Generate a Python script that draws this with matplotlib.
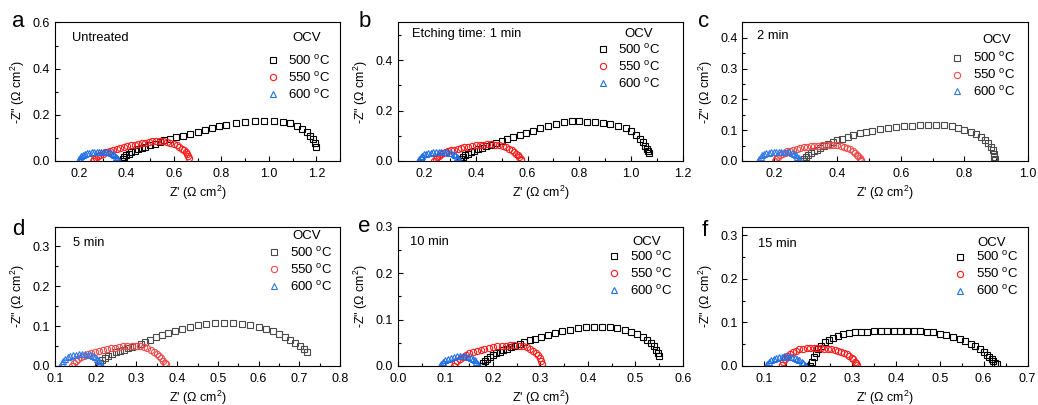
import matplotlib
matplotlib.use('Agg')
import matplotlib.pyplot as plt
from matplotlib.ticker import MultipleLocator, FormatStrFormatter
from matplotlib.lines import Line2D

plt.rcParams['font.family'] = ['Liberation Sans', 'DejaVu Sans']
plt.rcParams['mathtext.fontset'] = 'custom'
plt.rcParams['mathtext.rm'] = 'Liberation Sans'
plt.rcParams['font.size'] = 9

# Nyquist data, Z' and -Z'' in ohm cm2
# (a) untreated
zre_a500 = [0.38, 0.385, 0.39, 0.40, 0.41, 0.42, 0.435, 0.45, 0.465, 0.48, 0.50, 0.52, 0.54, 0.56, 0.585, 0.61,
            0.64, 0.67, 0.70, 0.73, 0.76, 0.79, 0.82, 0.86, 0.90, 0.94, 0.98, 1.02, 1.06, 1.09, 1.12, 1.14,
            1.16, 1.175, 1.185, 1.195, 1.20]
zim_a500 = [0.0, 0.01, 0.018, 0.025, 0.032, 0.038, 0.044, 0.05, 0.056, 0.062, 0.068, 0.075, 0.082, 0.089, 0.096, 0.103,
            0.11, 0.118, 0.126, 0.134, 0.142, 0.15, 0.157, 0.163, 0.168, 0.172, 0.174, 0.174, 0.17, 0.163, 0.152, 0.14,
            0.126, 0.11, 0.095, 0.078, 0.06]
zre_a550 = [0.26, 0.265, 0.272, 0.28, 0.29, 0.30, 0.31, 0.32, 0.33, 0.345, 0.36, 0.375, 0.39, 0.405, 0.42, 0.435,
            0.45, 0.465, 0.48, 0.495, 0.51, 0.525, 0.54, 0.555, 0.57, 0.585, 0.60, 0.612, 0.623, 0.633, 0.642,
            0.65, 0.656, 0.661, 0.664]
zim_a550 = [0.0, 0.008, 0.015, 0.021, 0.027, 0.032, 0.037, 0.041, 0.045, 0.049, 0.053, 0.057, 0.061, 0.065, 0.068, 0.071,
            0.075, 0.078, 0.08, 0.083, 0.085, 0.086, 0.086, 0.085, 0.083, 0.079, 0.074, 0.068, 0.061, 0.054, 0.046,
            0.038, 0.03, 0.022, 0.015]
zre_a600 = [0.195, 0.20, 0.205, 0.21, 0.218, 0.226, 0.235, 0.245, 0.255, 0.265, 0.275, 0.285, 0.295, 0.305, 0.315,
            0.325, 0.335, 0.343, 0.35, 0.356, 0.361, 0.365, 0.368]
zim_a600 = [0.0, 0.008, 0.015, 0.021, 0.026, 0.03, 0.033, 0.035, 0.037, 0.038, 0.039, 0.04, 0.04, 0.04, 0.039,
            0.037, 0.034, 0.03, 0.025, 0.019, 0.013, 0.007, 0.002]

# (b) 1 min
zre_b500 = [0.34, 0.345, 0.35, 0.36, 0.37, 0.38, 0.395, 0.41, 0.425, 0.44, 0.46, 0.48, 0.50, 0.52, 0.545, 0.57,
            0.595, 0.62, 0.65, 0.68, 0.71, 0.74, 0.77, 0.80, 0.83, 0.86, 0.89, 0.92, 0.95, 0.98, 1.00, 1.02,
            1.035, 1.045, 1.055, 1.06, 1.065, 1.068]
zim_b500 = [0.0, 0.008, 0.015, 0.022, 0.028, 0.034, 0.04, 0.046, 0.052, 0.058, 0.064, 0.071, 0.078, 0.086, 0.094, 0.103,
            0.112, 0.121, 0.13, 0.139, 0.148, 0.154, 0.158, 0.158, 0.156, 0.153, 0.15, 0.146, 0.14, 0.13, 0.118, 0.104,
            0.089, 0.074, 0.06, 0.048, 0.038, 0.032]
zre_b550 = [0.24, 0.245, 0.25, 0.258, 0.266, 0.275, 0.285, 0.295, 0.305, 0.317, 0.33, 0.343, 0.356, 0.37, 0.385,
            0.40, 0.415, 0.43, 0.445, 0.46, 0.475, 0.49, 0.505, 0.518, 0.53, 0.54, 0.549, 0.557, 0.564, 0.569,
            0.573, 0.576]
zim_b550 = [0.0, 0.008, 0.015, 0.021, 0.026, 0.031, 0.035, 0.039, 0.042, 0.045, 0.048, 0.051, 0.054, 0.057, 0.059,
            0.062, 0.064, 0.065, 0.066, 0.066, 0.065, 0.063, 0.06, 0.055, 0.049, 0.043, 0.036, 0.029, 0.022, 0.015,
            0.008, 0.002]
zre_b600 = [0.178, 0.182, 0.187, 0.193, 0.20, 0.208, 0.217, 0.227, 0.237, 0.247, 0.257, 0.267, 0.277, 0.287,
            0.297, 0.306, 0.315, 0.322, 0.328, 0.333, 0.337, 0.339]
zim_b600 = [0.0, 0.008, 0.015, 0.021, 0.026, 0.029, 0.031, 0.033, 0.034, 0.035, 0.036, 0.036, 0.036, 0.035,
            0.033, 0.031, 0.027, 0.022, 0.017, 0.011, 0.005, 0.0]

# (c) 2 min
zre_c500 = [0.29, 0.295, 0.30, 0.308, 0.316, 0.325, 0.335, 0.345, 0.357, 0.37, 0.385, 0.40, 0.415, 0.432, 0.45,
            0.47, 0.49, 0.51, 0.535, 0.56, 0.585, 0.61, 0.635, 0.66, 0.685, 0.71, 0.735, 0.76, 0.78, 0.80, 0.82,
            0.837, 0.852, 0.865, 0.876, 0.884, 0.89, 0.893, 0.895, 0.896]
zim_c500 = [0.0, 0.007, 0.013, 0.019, 0.025, 0.031, 0.037, 0.043, 0.049, 0.055, 0.061, 0.067, 0.073, 0.079, 0.085,
            0.09, 0.095, 0.099, 0.103, 0.107, 0.11, 0.113, 0.115, 0.117, 0.118, 0.118, 0.116, 0.113, 0.108, 0.102, 0.095,
            0.087, 0.078, 0.068, 0.057, 0.046, 0.035, 0.024, 0.014, 0.006]
zre_c550 = [0.203, 0.207, 0.212, 0.218, 0.225, 0.233, 0.242, 0.251, 0.261, 0.271, 0.282, 0.293, 0.304, 0.315,
            0.327, 0.339, 0.351, 0.363, 0.375, 0.387, 0.399, 0.41, 0.421, 0.431, 0.44, 0.448, 0.455, 0.461, 0.466,
            0.47, 0.473, 0.475]
zim_c550 = [0.0, 0.007, 0.013, 0.018, 0.023, 0.027, 0.031, 0.034, 0.037, 0.04, 0.042, 0.044, 0.046, 0.048,
            0.049, 0.05, 0.051, 0.052, 0.053, 0.053, 0.052, 0.05, 0.047, 0.043, 0.038, 0.033, 0.027, 0.021, 0.015,
            0.009, 0.004, 0.0]
zre_c600 = [0.15, 0.153, 0.157, 0.162, 0.168, 0.175, 0.183, 0.191, 0.199, 0.207, 0.215, 0.223, 0.231, 0.239,
            0.247, 0.255, 0.262, 0.268, 0.273, 0.277, 0.28, 0.282]
zim_c600 = [0.0, 0.007, 0.013, 0.018, 0.022, 0.025, 0.027, 0.028, 0.029, 0.03, 0.03, 0.03, 0.03, 0.029,
            0.028, 0.026, 0.023, 0.019, 0.014, 0.009, 0.004, 0.0]

# (d) 5 min
zre_d500 = [0.205, 0.21, 0.216, 0.223, 0.231, 0.24, 0.25, 0.26, 0.27, 0.28, 0.29, 0.30, 0.31, 0.32, 0.333, 0.347,
            0.362, 0.378, 0.395, 0.413, 0.432, 0.452, 0.472, 0.494, 0.516, 0.538, 0.56, 0.58, 0.60, 0.618, 0.635,
            0.65, 0.665, 0.678, 0.69, 0.701, 0.711, 0.72]
zim_d500 = [0.0, 0.008, 0.015, 0.021, 0.026, 0.03, 0.034, 0.038, 0.041, 0.044, 0.047, 0.051, 0.055, 0.06, 0.066, 0.072,
            0.078, 0.084, 0.089, 0.094, 0.098, 0.102, 0.105, 0.107, 0.108, 0.108, 0.106, 0.103, 0.099, 0.094, 0.088,
            0.081, 0.074, 0.066, 0.058, 0.05, 0.042, 0.035]
zre_d550 = [0.142, 0.146, 0.151, 0.157, 0.164, 0.172, 0.18, 0.189, 0.198, 0.208, 0.218, 0.228, 0.238, 0.248,
            0.258, 0.268, 0.278, 0.288, 0.298, 0.308, 0.318, 0.327, 0.335, 0.343, 0.35, 0.356, 0.361, 0.366, 0.369,
            0.372]
zim_d550 = [0.0, 0.007, 0.013, 0.018, 0.022, 0.026, 0.029, 0.032, 0.035, 0.038, 0.04, 0.042, 0.044, 0.046,
            0.048, 0.049, 0.05, 0.051, 0.051, 0.05, 0.048, 0.045, 0.041, 0.036, 0.031, 0.025, 0.019, 0.013, 0.008,
            0.004]
zre_d600 = [0.113, 0.116, 0.12, 0.125, 0.131, 0.138, 0.145, 0.152, 0.159, 0.166, 0.173, 0.18, 0.187, 0.193,
            0.199, 0.204, 0.208, 0.211, 0.214, 0.215]
zim_d600 = [0.0, 0.007, 0.013, 0.018, 0.022, 0.025, 0.027, 0.028, 0.029, 0.029, 0.029, 0.028, 0.027, 0.025,
            0.022, 0.018, 0.013, 0.008, 0.003, 0.0]

# (e) 10 min
zre_e500 = [0.176, 0.179, 0.183, 0.188, 0.194, 0.20, 0.207, 0.214, 0.221, 0.229, 0.237, 0.246, 0.256, 0.266,
            0.277, 0.289, 0.302, 0.316, 0.331, 0.346, 0.362, 0.378, 0.395, 0.412, 0.429, 0.446, 0.462, 0.477,
            0.491, 0.504, 0.515, 0.525, 0.533, 0.539, 0.544, 0.547, 0.549]
zim_e500 = [0.0, 0.006, 0.011, 0.016, 0.02, 0.024, 0.028, 0.031, 0.034, 0.037, 0.04, 0.043, 0.047, 0.051,
            0.055, 0.059, 0.063, 0.067, 0.071, 0.075, 0.078, 0.081, 0.083, 0.084, 0.084, 0.083, 0.081, 0.078,
            0.074, 0.069, 0.063, 0.056, 0.049, 0.042, 0.035, 0.028, 0.022]
zre_e550 = [0.118, 0.121, 0.125, 0.13, 0.136, 0.143, 0.15, 0.158, 0.166, 0.174, 0.182, 0.191, 0.20, 0.209,
            0.218, 0.227, 0.236, 0.245, 0.254, 0.263, 0.271, 0.278, 0.285, 0.29, 0.295, 0.299, 0.302, 0.304]
zim_e550 = [0.0, 0.006, 0.011, 0.016, 0.02, 0.024, 0.027, 0.03, 0.033, 0.035, 0.037, 0.039, 0.041, 0.042,
            0.043, 0.044, 0.045, 0.045, 0.044, 0.043, 0.04, 0.037, 0.033, 0.028, 0.023, 0.017, 0.011, 0.005]
zre_e600 = [0.088, 0.091, 0.095, 0.10, 0.106, 0.112, 0.118, 0.124, 0.13, 0.136, 0.142, 0.148, 0.153, 0.158,
            0.162, 0.165, 0.168, 0.17]
zim_e600 = [0.0, 0.005, 0.009, 0.013, 0.016, 0.018, 0.02, 0.021, 0.022, 0.022, 0.021, 0.02, 0.018, 0.015,
            0.012, 0.008, 0.004, 0.0]

# (f) 15 min
zre_f500 = [0.205, 0.208, 0.212, 0.217, 0.223, 0.23, 0.238, 0.247, 0.257, 0.268, 0.28, 0.293, 0.307, 0.321,
            0.335, 0.35, 0.365, 0.38, 0.395, 0.41, 0.425, 0.44, 0.455, 0.47, 0.485, 0.50, 0.515, 0.53, 0.545,
            0.558, 0.57, 0.581, 0.591, 0.60, 0.607, 0.613, 0.618, 0.622, 0.626, 0.63]
zim_f500 = [0.0, 0.01, 0.02, 0.03, 0.039, 0.047, 0.054, 0.06, 0.065, 0.069, 0.073, 0.075, 0.077, 0.078,
            0.079, 0.08, 0.08, 0.081, 0.081, 0.081, 0.081, 0.081, 0.08, 0.079, 0.077, 0.074, 0.071, 0.067, 0.062,
            0.057, 0.051, 0.045, 0.039, 0.032, 0.026, 0.02, 0.015, 0.011, 0.007, 0.004]
zre_f550 = [0.14, 0.143, 0.147, 0.152, 0.158, 0.165, 0.172, 0.18, 0.188, 0.196, 0.204, 0.212, 0.22, 0.228,
            0.236, 0.244, 0.252, 0.26, 0.268, 0.275, 0.282, 0.288, 0.294, 0.299, 0.303, 0.307, 0.31, 0.312]
zim_f550 = [0.002, 0.01, 0.017, 0.023, 0.028, 0.032, 0.035, 0.038, 0.04, 0.041, 0.042, 0.042, 0.042, 0.041,
            0.04, 0.039, 0.038, 0.037, 0.035, 0.033, 0.03, 0.027, 0.023, 0.019, 0.015, 0.01, 0.006, 0.002]
zre_f600 = [0.103, 0.106, 0.11, 0.115, 0.121, 0.127, 0.133, 0.139, 0.145, 0.151, 0.157, 0.163, 0.169, 0.175,
            0.18, 0.185, 0.189, 0.192, 0.195]
zim_f600 = [0.0, 0.005, 0.009, 0.013, 0.016, 0.018, 0.02, 0.021, 0.022, 0.022, 0.021, 0.02, 0.018, 0.016,
            0.013, 0.01, 0.006, 0.003, 0.0]

labels = ['a', 'b', 'c', 'd', 'e', 'f']
notes = ['Untreated', 'Etching time: 1 min', '2 min', '5 min', '10 min', '15 min']
temps = ['500 $\\mathregular{^{o}}$C', '550 $\\mathregular{^{o}}$C', '600 $\\mathregular{^{o}}$C']
markers = ['s', 'o', '^']
colors = ['#000000', '#ff1a1a', '#1f6fe5']
colors_soft = ['#4a4a4a', '#f04a4a', '#2f78e8']

series = [
    [(zre_a500, zim_a500), (zre_a550, zim_a550), (zre_a600, zim_a600)],
    [(zre_b500, zim_b500), (zre_b550, zim_b550), (zre_b600, zim_b600)],
    [(zre_c500, zim_c500), (zre_c550, zim_c550), (zre_c600, zim_c600)],
    [(zre_d500, zim_d500), (zre_d550, zim_d550), (zre_d600, zim_d600)],
    [(zre_e500, zim_e500), (zre_e550, zim_e550), (zre_e600, zim_e600)],
    [(zre_f500, zim_f500), (zre_f550, zim_f550), (zre_f600, zim_f600)],
]

# axis setup per panel: xlim, x major, ylim, y major
xlims = [(0.1, 1.3), (0.1, 1.2), (0.1, 1.0), (0.1, 0.8), (0.0, 0.6), (0.05, 0.7)]
xmajor = [0.2, 0.2, 0.2, 0.1, 0.1, 0.1]
ylims = [(0, 0.6), (0, 0.55), (0, 0.45), (0, 0.35), (0, 0.3), (0, 0.32)]
ymajor = [0.2, 0.2, 0.1, 0.1, 0.1, 0.1]

# axes rectangles in figure fraction
lefts = [0.053, 0.3834, 0.7153]
bottoms = [0.6025, 0.0963]
width = 0.2746
heights = [0.342, 0.3444]

# OCV title position, legend anchor, note position, panel letter (axes fraction)
ocv_pos = [(0.883, 0.885), (0.844, 0.92), (0.891, 0.877), (0.884, 0.935), (0.873, 0.89), (0.873, 0.884)]
leg_anchor = [(0.74, 0.775), (0.695, 0.852), (0.731, 0.792), (0.744, 0.862), (0.734, 0.834), (0.74, 0.829)]
note_pos = [(0.058, 0.885), (0.048, 0.914), (0.052, 0.902), (0.064, 0.88), (0.042, 0.89), (0.054, 0.876)]
letter_pos = [(-0.151, 0.968), (-0.14, 0.968), (-0.156, 0.968), (-0.151, 0.94), (-0.14, 0.96), (-0.145, 0.93)]

fig = plt.figure(figsize=(10.38, 4.05), dpi=100)

for i in range(6):
    row, col = divmod(i, 3)
    ax = fig.add_axes([lefts[col], bottoms[row], width, heights[row]])
    cols = colors_soft if i in (2, 3) else colors
    handles = []
    for (zre, zim), m, c, t in zip(series[i], markers, cols, temps):
        ax.plot(zre, zim, linestyle='none', marker=m, ms=4.5, mfc='none', mec=c, mew=0.8)
        handles.append(Line2D([], [], linestyle='none', marker=m, ms=4.5, mfc='none', mec=c, mew=0.8, label=t))

    ax.set_xlim(*xlims[i])
    ax.set_ylim(*ylims[i])
    ax.xaxis.set_major_locator(MultipleLocator(xmajor[i]))
    ax.xaxis.set_minor_locator(MultipleLocator(xmajor[i] / 2))
    ax.yaxis.set_major_locator(MultipleLocator(ymajor[i]))
    ax.yaxis.set_minor_locator(MultipleLocator(ymajor[i] / 2))
    ax.xaxis.set_major_formatter(FormatStrFormatter('%.1f'))
    ax.yaxis.set_major_formatter(FormatStrFormatter('%.1f'))
    ax.tick_params(which='both', direction='in', labelsize=9, width=0.8)
    ax.tick_params(axis='x', which='both', pad=5)
    ax.tick_params(axis='y', which='both', pad=3.5)
    ax.tick_params(which='major', length=3.5)
    ax.tick_params(which='minor', length=2)
    for s in ax.spines.values():
        s.set_linewidth(0.8)

    ax.set_xlabel("Z' (\u03a9 cm$\\mathregular{^2}$)", fontsize=9, labelpad=2.5)
    ax.set_ylabel('-Z" (\u03a9 cm$\\mathregular{^2}$)', fontsize=9, labelpad=4)

    ax.text(note_pos[i][0], note_pos[i][1], notes[i], transform=ax.transAxes,
            fontsize=9.3, ha='left', va='center')
    ax.text(ocv_pos[i][0], ocv_pos[i][1], 'OCV', transform=ax.transAxes,
            fontsize=9.5, ha='center', va='center')
    ax.legend(handles=handles, loc='upper left', bbox_to_anchor=leg_anchor[i], frameon=False,
              fontsize=9.5, handlelength=1.0, handletextpad=0.7, labelspacing=0.22,
              borderpad=0, borderaxespad=0)

    ax.text(letter_pos[i][0], letter_pos[i][1], labels[i], transform=ax.transAxes, fontsize=16,
            ha='left', va='baseline')

fig.savefig('out.png', dpi=100)
